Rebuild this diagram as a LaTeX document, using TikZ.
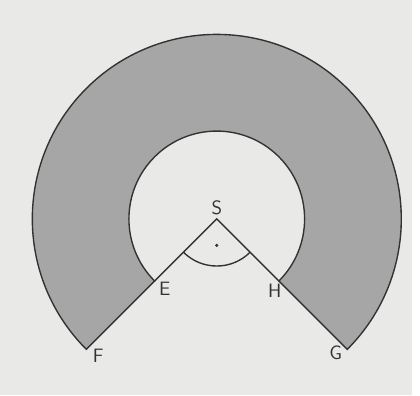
\documentclass[tikz,border=0pt]{standalone}
\usepackage{tikz}
\definecolor{paper}{RGB}{233,234,231}
\definecolor{shade}{RGB}{166,166,166}
\definecolor{ink}{RGB}{50,50,50}
\begin{document}
\begin{tikzpicture}[
  scale=0.025,
  ring/.style={draw=ink, fill=shade, line width=1pt, line join=miter},
  edge/.style={draw=ink, line width=1pt},
  lbl/.style={text=ink, font=\sffamily\fontsize{14}{16}\selectfont, inner sep=0pt}
]
  \fill[paper] (0,0) rectangle (420,403);

  \coordinate (S) at (221,180);
  \path (S) ++(225:89.5) coordinate (E);
  \path (S) ++(225:188)  coordinate (F);
  \path (S) ++(315:188)  coordinate (G);
  \path (S) ++(315:89.5) coordinate (H);

  % shaded ring piece
  \path[ring] (E) -- (F) arc[start angle=225, end angle=-45, radius=188]
    -- (H) arc[start angle=-45, end angle=225, radius=89.5] -- cycle;

  \draw[edge] (E) -- (S) -- (H);
  \path (S) ++(225:48) coordinate (a1);
  \draw[edge] (a1) arc[start angle=225, end angle=315, radius=48];
  \fill[ink] (S) ++(0,-27) circle[radius=1.8];

  \node[lbl] (s) at (221,191) {S};
  \node[lbl] (e) at (168,109) {E};
  \node[lbl] (h) at (280,107) {H};
  \node[lbl] (f) at (100,40)  {F};
  \node[lbl] (g) at (342,43)  {G};
\end{tikzpicture}
\end{document}
